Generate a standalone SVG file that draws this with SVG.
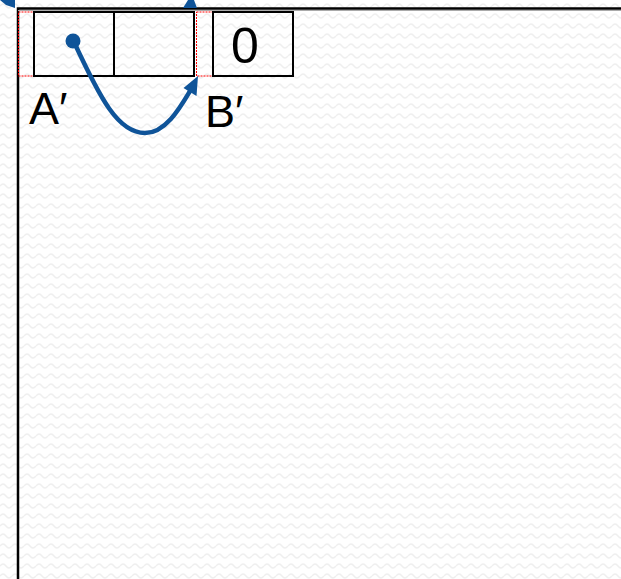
<svg xmlns="http://www.w3.org/2000/svg" width="621" height="579" viewBox="0 0 621 579">
<defs>
<pattern id="bg" width="12" height="10" patternUnits="userSpaceOnUse">
<rect width="12" height="10" fill="#ffffff"/>
<path d="M0,6 Q3,2 6,6 T12,6" fill="none" stroke="#efefef" stroke-width="1.4"/>
</pattern>
<style>
.cell{fill:none;stroke:#000;stroke-width:2}
.gap{fill:none;stroke:#ff0000;stroke-width:1;stroke-dasharray:2,1}
.lbl{font-family:"Liberation Sans",Arial,sans-serif;font-size:45px;fill:#000}
.big{font-size:50px}
.frame{stroke:#000;stroke-width:2.5;fill:none}
.conn{fill:none;stroke:#0f5499;stroke-width:4.5;stroke-linecap:round}
.head{fill:#0f5499}
</style>
</defs>
<rect width="621" height="579" fill="url(#bg)"/>
<g id="frame">
<path class="frame" d="M18,579 L18,8.5 L621,8.5"/>
<line x1="18" y1="10.5" x2="621" y2="10.5" stroke="#aaaaaa" stroke-width="1"/>
</g>
<g id="gapA"><rect class="gap" x="18.5" y="12" width="15.5" height="64"/></g>
<g id="cellA1"><rect class="cell" x="34" y="12" width="80" height="64"/></g>
<g id="cellA2"><rect class="cell" x="114" y="12" width="80" height="64"/></g>
<g id="gapB"><rect class="gap" x="196.5" y="12" width="16" height="64"/></g>
<g id="cellB"><rect class="cell" x="213" y="12" width="80" height="64"/>
<text class="lbl big" x="245" y="63" text-anchor="middle">0</text></g>
<g id="labelA"><text class="lbl" x="29" y="124">A′</text></g>
<g id="labelB"><text class="lbl" x="205" y="127">B′</text></g>
<g id="connectors">
<circle cx="73" cy="41" r="7.5" fill="#0f5499"/>
<path class="conn" d="M74,42 C100,98 118,133 145,133 C166,133 181,106 190,91"/>
<polygon class="head" points="198,76 196.5,96 183.5,88"/>
<polygon class="head" points="0,0 15,0 15,8 6,5"/>
<polygon class="head" points="183,8 188,0 194,0 197,8"/>
</g>
</svg>
